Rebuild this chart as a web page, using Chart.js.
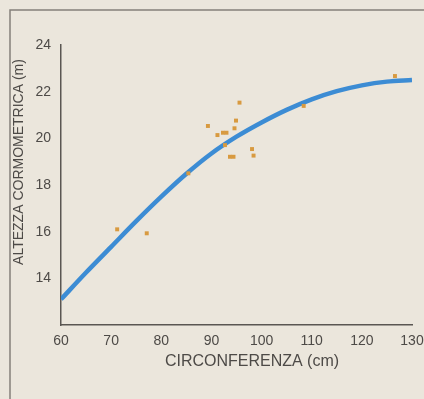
<!DOCTYPE html>
<html>
<head>
<meta charset="utf-8">
<script src="https://cdn.jsdelivr.net/npm/chart.js@4/dist/chart.umd.min.js"></script>
<style>
    html, body { margin: 0; padding: 0; background: #ebe6dc; }
    #wrap { width: 424px; height: 399px; }
</style>
</head>
<body>
<div id="wrap"><canvas id="chart-altezza" width="424" height="399"></canvas></div>
<script>
// ================================
//   DATI
// ================================
const puntiCirconferenza = [71.2, 77.1, 85.4, 89.3, 91.2, 92.3, 93.0, 92.7, 93.7, 94.4, 94.6, 94.9, 95.6, 98.1, 98.4, 108.4, 126.6];
const puntiAltezza       = [16.1, 15.93, 18.5, 20.53, 20.14, 20.24, 20.24, 19.71, 19.21, 19.21, 20.43, 20.76, 21.53, 19.54, 19.26, 21.39, 22.67];

const curvaCirconferenza = [60, 65, 70, 75, 80, 85, 90, 95, 100, 105, 110, 115, 120, 125, 130];
const curvaAltezza       = [13.1, 14.25, 15.35, 16.45, 17.5, 18.48, 19.35, 20.07, 20.68, 21.22, 21.67, 22.02, 22.27, 22.43, 22.5];

const ticksX = [60, 70, 80, 90, 100, 110, 120, 130];
const ticksY = [14, 16, 18, 20, 22, 24];

const titoloX = "CIRCONFERENZA (cm)";
const titoloY = "ALTEZZA CORMOMETRICA (m)";

const testoColore = "#4d4a47";
const fontBase = "'Liberation Sans', Arial, Helvetica, sans-serif";

// ================================
//   SFONDO, CORNICE E TITOLI
// ================================
const sfondoPlugin = {
    id: "sfondo",
    beforeDraw(chart) {
        const ctx = chart.ctx;
        ctx.save();
        ctx.fillStyle = "#ebe6dc";
        ctx.fillRect(0, 0, chart.width, chart.height);
        ctx.strokeStyle = "#85807a";
        ctx.lineWidth = 1.5;
        ctx.beginPath();
        ctx.moveTo(10, chart.height);
        ctx.lineTo(10, 10);
        ctx.lineTo(chart.width, 10);
        ctx.stroke();
        ctx.restore();
    },
    afterDraw(chart) {
        const ctx = chart.ctx;
        ctx.save();
        ctx.fillStyle = testoColore;
        ctx.textAlign = "center";
        ctx.textBaseline = "middle";
        ctx.font = "16px " + fontBase;
        ctx.fillText(titoloX, 252, 362);
        ctx.translate(19, 162);
        ctx.rotate(-Math.PI / 2);
        ctx.font = "14px " + fontBase;
        ctx.fillText(titoloY, 0, 0);
        ctx.restore();
    }
};

// ================================
//   GRAFICO
// ================================
const ctx = document.getElementById("chart-altezza").getContext("2d");

new Chart(ctx, {
    type: "scatter",
    data: {
        datasets: [
            {
                label: "Misure",
                data: puntiCirconferenza.map((x, i) => ({ x: x, y: puntiAltezza[i] })),
                pointStyle: "rect",
                pointRadius: 2.8,
                backgroundColor: "#d89a40",
                borderWidth: 0,
                order: 0
            },
            {
                label: "Curva",
                data: curvaCirconferenza.map((x, i) => ({ x: x, y: curvaAltezza[i] })),
                showLine: true,
                pointRadius: 0,
                borderColor: "#3c8cd4",
                borderWidth: 4.5,
                cubicInterpolationMode: "monotone",
                order: 1
            }
        ]
    },
    options: {
        responsive: false,
        animation: false,
        layout: { padding: { left: 8, right: 12, top: 45, bottom: 0 } },
        plugins: {
            legend: { display: false },
            tooltip: { enabled: false }
        },
        scales: {
            x: {
                type: "linear",
                min: 60,
                max: 130,
                afterBuildTicks: (scale) => { scale.ticks = ticksX.map(v => ({ value: v })); },
                afterFit: (scale) => {
                    scale.height = 74;
                    scale.paddingLeft = 0;
                    scale.paddingRight = 0;
                },
                grid: { display: false, drawTicks: false },
                border: { display: true, color: "#5a5652", width: 1.5 },
                ticks: {
                    color: testoColore,
                    padding: 8,
                    maxRotation: 0,
                    font: { family: fontBase, size: 14 }
                }
            },
            y: {
                type: "linear",
                min: 12,
                max: 24,
                afterBuildTicks: (scale) => { scale.ticks = ticksY.map(v => ({ value: v })); },
                afterFit: (scale) => {
                    scale.width = 53;
                    scale.paddingTop = 0;
                    scale.paddingBottom = 0;
                },
                grid: { display: false, drawTicks: false },
                border: { display: true, color: "#5a5652", width: 1.5 },
                ticks: {
                    color: testoColore,
                    padding: 10,
                    font: { family: fontBase, size: 14 }
                }
            }
        }
    },
    plugins: [sfondoPlugin]
});
</script>
</body>
</html>
